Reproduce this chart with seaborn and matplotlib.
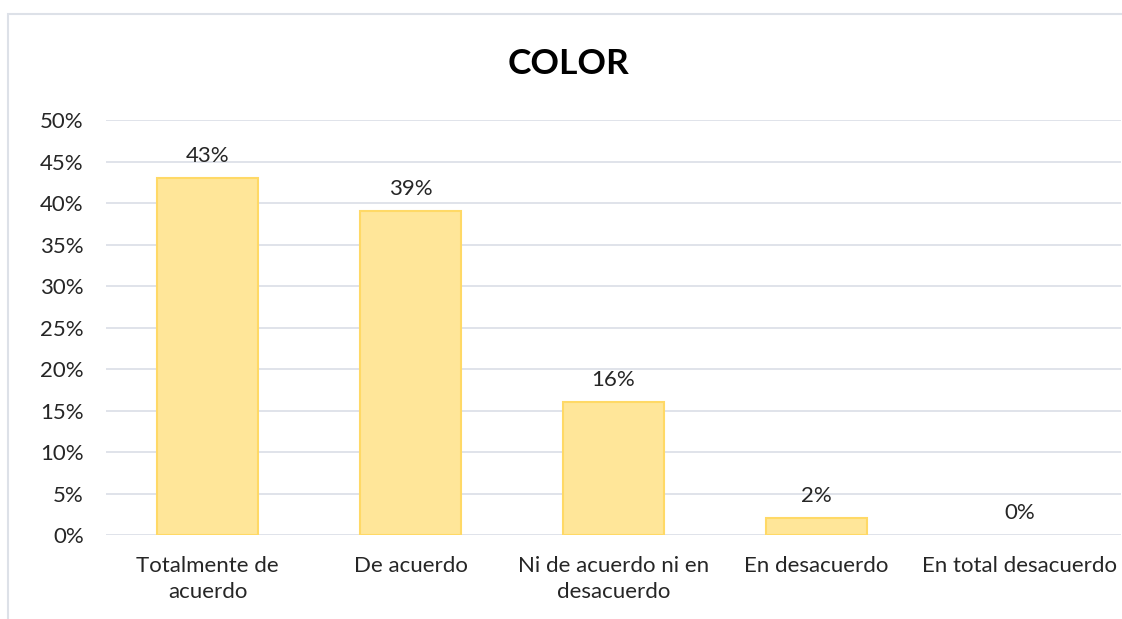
import matplotlib
matplotlib.use("Agg")
import matplotlib.pyplot as plt
import matplotlib.patches as mpatches
from matplotlib.ticker import FuncFormatter, MultipleLocator
import pandas as pd
import seaborn as sns

# Data
categories = ["Totalmente de\nacuerdo", "De acuerdo", "Ni de acuerdo ni en\ndesacuerdo",
              "En desacuerdo", "En total desacuerdo"]
values = [0.43, 0.39, 0.16, 0.02, 0.00]
title = "COLOR"

df = pd.DataFrame({"cat": categories, "val": values})

sns.set_style("white")
plt.rcParams["font.family"] = ["Lato", "DejaVu Sans"]

fig = plt.figure(figsize=(11.22, 6.19), dpi=100)
ax = fig.add_axes([0.0945, 0.1357, 0.9045, 0.6703])

sns.barplot(data=df, x="cat", y="val", color="#FFE699", width=0.5,
            edgecolor="#FFD966", linewidth=1.5, saturation=1, ax=ax, zorder=3)
# no outline on empty bars
for p in ax.patches:
    if p.get_height() == 0:
        p.set_linewidth(0)

ax.set_ylim(0, 0.5)
ax.yaxis.set_major_locator(MultipleLocator(0.05))
ax.yaxis.set_major_formatter(FuncFormatter(lambda v, p: f"{v*100:.0f}%"))
ax.grid(axis="y", color="#DDE1E8", linewidth=1.3, zorder=0)
ax.set_axisbelow(True)
for s in ax.spines.values():
    s.set_visible(False)
ax.tick_params(axis="both", length=0, labelsize=16, colors="#262626")
ax.tick_params(axis="y", pad=16)
ax.tick_params(axis="x", pad=15)
for t in ax.get_xticklabels():
    t.set_linespacing(1.4)
ax.set_xlabel("")
ax.set_ylabel("")

for i, v in enumerate(values):
    ax.annotate(f"{v*100:.0f}%", (i, v), xytext=(0, 9), textcoords="offset points",
                ha="center", va="bottom", fontsize=16, color="#262626")

fig.text(0.507, 0.897, title, ha="center", va="center", fontsize=25.5,
         fontweight="bold", color="#000000")

# chart frame
fig.patches.append(mpatches.Rectangle((8 / 1122, -0.1), 1.2, 1 - 14 / 619 + 0.1,
                                      transform=fig.transFigure, fill=False,
                                      edgecolor="#DDE1E8", linewidth=1.5))

fig.savefig("out.png", dpi=100)
